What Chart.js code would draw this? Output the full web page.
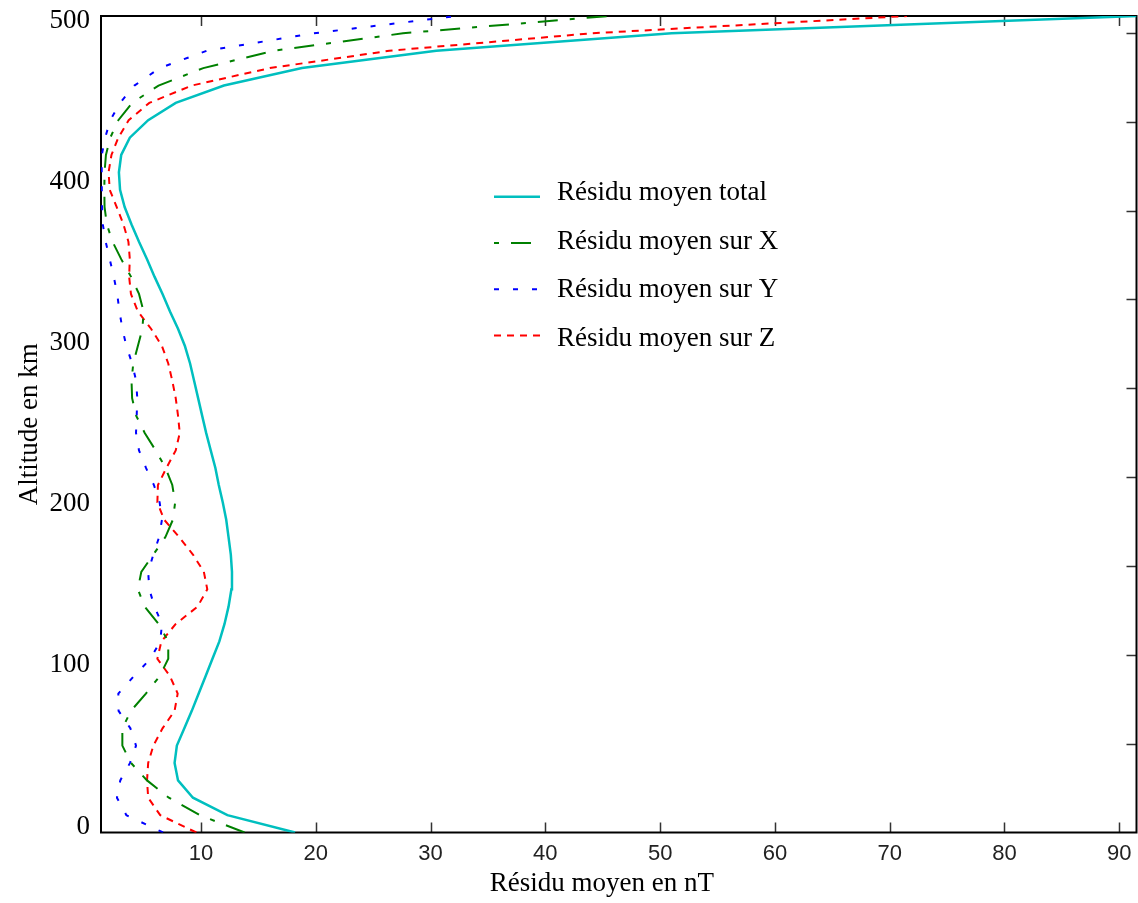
<!DOCTYPE html>
<html lang="fr">
<head>
<meta charset="utf-8">
<title>Résidu moyen en fonction de l'altitude</title>
<script src="https://cdn.jsdelivr.net/npm/chart.js@4.4.1/dist/chart.umd.min.js"></script>
<style>
    html, body { margin: 0; padding: 0; background: #fff; }
    #chart-wrap { width: 1138px; height: 903px; }
</style>
</head>
<body>
<div id="chart-wrap"><canvas id="residu-chart" width="1138" height="903"></canvas></div>
<script>
// Altitudes des points de calcul (km)
const altitudes = [0, 10.6, 21.3, 31.9, 42.6, 53.2, 63.8, 74.5, 85.1, 95.7,
    106.4, 117.0, 127.7, 138.3, 148.9, 159.6, 170.2, 180.9, 191.5, 202.1,
    212.8, 223.4, 234.0, 244.7, 255.3, 266.0, 276.6, 287.2, 297.9, 308.5,
    319.1, 329.8, 340.4, 351.1, 361.7, 372.3, 383.0, 393.6, 404.3, 414.9,
    425.5, 436.2, 446.8, 457.4, 468.1, 478.7, 489.4, 500];

// Résidus moyens (nT)
const residuTotal = [18.2, 12.3, 9.3, 8.0, 7.7, 7.9, 8.55, 9.2, 9.8, 10.4,
    11.0, 11.6, 12.05, 12.4, 12.65, 12.7, 12.6, 12.4, 12.2, 11.9,
    11.55, 11.25, 10.85, 10.45, 10.1, 9.75, 9.4, 9.05, 8.6, 8.0,
    7.3, 6.65, 5.95, 5.3, 4.6, 3.95, 3.35, 2.95, 2.85, 3.05,
    3.8, 5.4, 7.8, 12.0, 18.8, 30.5, 51.0, 91.5];
const residuX = [13.8, 9.9, 7.2, 5.3, 3.9, 3.15, 3.15, 3.9, 5.2, 6.4,
    7.15, 7.15, 6.3, 5.1, 4.5, 4.8, 5.85, 6.9, 7.55, 7.75,
    7.5, 6.9, 6.05, 5.1, 4.35, 4.0, 3.95, 4.1, 4.5, 4.9,
    5.0, 4.6, 3.9, 3.05, 2.3, 1.8, 1.6, 1.58, 1.6, 1.72,
    2.1, 2.8, 4.0, 6.3, 10.2, 16.3, 27.6, 45.5];
const residuY = [6.7, 3.5, 2.68, 2.97, 3.82, 4.34, 3.85, 2.82, 2.8, 4.15,
    5.6, 6.45, 6.6, 5.95, 5.5, 5.4, 5.85, 6.35, 6.6, 6.4,
    5.9, 5.2, 4.6, 4.34, 4.4, 4.45, 4.35, 4.0, 3.5, 3.15,
    2.9, 2.7, 2.4, 2.05, 1.7, 1.45, 1.38, 1.36, 1.35, 1.36,
    1.65, 2.1, 2.95, 4.2, 6.4, 10.5, 19.8, 32.3];
const residuZ = [9.6, 6.45, 5.4, 5.3, 5.4, 5.85, 6.65, 7.7, 7.97, 7.3,
    6.2, 6.55, 7.8, 9.7, 10.55, 10.25, 9.3, 8.1, 6.8, 6.2,
    6.25, 7.0, 7.8, 8.15, 8.0, 7.8, 7.5, 7.15, 6.6, 5.65,
    4.5, 3.9, 3.74, 3.8, 3.68, 3.25, 2.66, 2.05, 1.95, 2.2,
    2.8, 3.7, 5.5, 9.2, 16.0, 26.4, 44.0, 71.5];

const seriesLabels = ['Résidu moyen total', 'Résidu moyen sur X', 'Résidu moyen sur Y', 'Résidu moyen sur Z'];

// Graduations
const xTickValues = [10, 20, 30, 40, 50, 60, 70, 80, 90];
const yTickValues = [0, 100, 200, 300, 400, 500];
const rightTickValues = [1, 2, 3, 4, 5, 6, 7, 8, 9];

const serif = 'Liberation Serif, Times New Roman, serif';

function toPoints(values) {
    return altitudes.map((alt, i) => ({ x: values[i], y: alt }));
}

function fixedTicks(list) {
    return scale => { scale.ticks = list.map(v => ({ value: v })); };
}

// pas de marge supplémentaire pour les étiquettes qui débordent
function noOverflow(scale) {
    scale.paddingTop = 0;
    scale.paddingBottom = 0;
    scale.paddingLeft = 0;
    scale.paddingRight = 0;
}

// Cadre + graduations tournées vers l'intérieur
const framePlugin = {
    id: 'frame',
    beforeDatasetsDraw(chart) {
        const { ctx, chartArea: a, scales } = chart;
        ctx.save();
        ctx.strokeStyle = '#333';
        ctx.lineWidth = 1.5;
        ctx.beginPath();
        scales.x.ticks.forEach(t => {
            const px = Math.round(scales.x.getPixelForValue(t.value)) + 0.5;
            ctx.moveTo(px, a.bottom); ctx.lineTo(px, a.bottom - 10);
            ctx.moveTo(px, a.top); ctx.lineTo(px, a.top + 10);
        });
        scales.y2.ticks.forEach(t => {
            const py = Math.round(scales.y2.getPixelForValue(t.value)) + 0.5;
            ctx.moveTo(a.right, py); ctx.lineTo(a.right - 10, py);
        });
        ctx.stroke();
        ctx.strokeStyle = '#000';
        ctx.lineWidth = 2;
        ctx.strokeRect(a.left, a.top, a.right - a.left, a.bottom - a.top);
        ctx.restore();
    }
};

// Légende placée dans la zone de tracé
const legendPlugin = {
    id: 'innerLegend',
    afterDatasetsDraw(chart) {
        const ctx = chart.ctx;
        ctx.save();
        ctx.font = '27px ' + serif;
        ctx.fillStyle = '#000';
        ctx.textBaseline = 'alphabetic';
        chart.data.datasets.forEach((ds, i) => {
            const lineY = 196.7 + i * 46.3;
            const textY = 200 + i * 48.7;
            ctx.strokeStyle = ds.borderColor;
            ctx.lineWidth = ds.borderWidth;
            ctx.setLineDash(ds.borderDash || []);
            ctx.lineDashOffset = ds.legendDashOffset || 0;
            ctx.beginPath();
            ctx.moveTo(494, lineY);
            ctx.lineTo(540, lineY);
            ctx.stroke();
            ctx.setLineDash([]);
            ctx.fillText(ds.label, 557, textY);
        });
        ctx.restore();
    }
};

new Chart(document.getElementById('residu-chart'), {
    type: 'line',
    data: {
        datasets: [
            { label: seriesLabels[0], data: toPoints(residuTotal), borderColor: '#00bfbf', borderWidth: 2.5 },
            { label: seriesLabels[1], data: toPoints(residuX), borderColor: '#008000', borderWidth: 2,
              borderDash: [20, 12, 5, 12], legendDashOffset: 32 },
            { label: seriesLabels[2], data: toPoints(residuY), borderColor: '#0000ff', borderWidth: 2,
              borderDash: [5, 14] },
            { label: seriesLabels[3], data: toPoints(residuZ), borderColor: '#ff0000', borderWidth: 2,
              borderDash: [7, 6] }
        ].map(ds => Object.assign(ds, { pointRadius: 0, tension: 0, fill: false, xAxisID: 'x', yAxisID: 'y' }))
    },
    options: {
        responsive: false,
        animation: false,
        events: [],
        indexAxis: 'y',
        layout: { padding: { top: 16, right: 1.5, bottom: 0, left: 0 } },
        plugins: {
            legend: { display: false },
            tooltip: { enabled: false }
        },
        scales: {
            x: {
                type: 'linear',
                position: 'bottom',
                min: 1.29,
                max: 91.5,
                afterBuildTicks: fixedTicks(xTickValues),
                afterFit: s => { s.height = 70.5; noOverflow(s); },
                grid: { display: false, drawTicks: false },
                border: { display: false },
                ticks: {
                    font: { family: 'Liberation Sans, Arial, sans-serif', size: 22 },
                    color: '#222',
                    padding: 8,
                    maxRotation: 0,
                    autoSkip: false
                },
                title: {
                    display: true,
                    text: 'Résidu moyen en nT\u00a0\u00a0\u00a0\u00a0\u00a0',
                    font: { family: serif, size: 27 },
                    color: '#000',
                    padding: { top: 0, bottom: 3 }
                }
            },
            // axe des données (altitude)
            y: {
                type: 'linear',
                min: 0,
                max: 500,
                display: false
            },
            // axe des étiquettes d'altitude, légèrement décalé comme sur la figure
            yl: {
                type: 'linear',
                position: 'left',
                min: -3.73,
                max: 503.1,
                afterBuildTicks: fixedTicks(yTickValues),
                afterFit: s => { s.width = 101; noOverflow(s); },
                grid: { display: false, drawTicks: false },
                border: { display: false },
                ticks: {
                    font: { family: serif, size: 27 },
                    color: '#000',
                    padding: 11,
                    autoSkip: false
                },
                title: {
                    display: true,
                    text: 'Altitude en km',
                    font: { family: serif, size: 27 },
                    color: '#000',
                    padding: { top: 14, bottom: 0 }
                }
            },
            // graduations du bord droit
            y2: {
                type: 'linear',
                position: 'right',
                min: 0,
                max: 9.19,
                afterBuildTicks: fixedTicks(rightTickValues),
                afterFit: s => { s.width = 0; noOverflow(s); },
                grid: { display: false, drawTicks: false },
                border: { display: false },
                ticks: { display: false }
            }
        }
    },
    plugins: [framePlugin, legendPlugin]
});
</script>
</body>
</html>
